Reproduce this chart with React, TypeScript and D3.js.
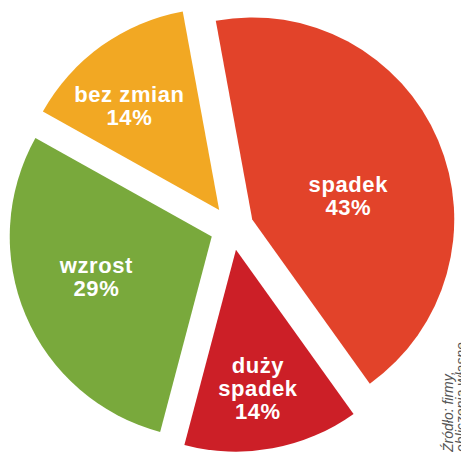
import React from "react";
import * as d3 from "d3";

const categories = ["spadek", "duży spadek", "wzrost", "bez zmian"];
const values = [43, 14, 29, 14];
const labelLines = [["spadek", "43%"], ["duży", "spadek", "14%"], ["wzrost", "29%"], ["bez zmian", "14%"]];
const colors = ["#e2432a", "#cc1f27", "#79a93c", "#f2a823"];
const sourceLines = ["Źródło: firmy,", "obliczenia własne"];

// layout (not data)
const W = 461, H = 452;
const CX = 232, CY = 228, R = 202, EXPLODE = 22;
const START_DEG = -10.4;
const labelPlace = [
  { dAngle: 9, dist: 99 },
  { dAngle: 1.4, dist: 140 },
  { dAngle: 4, dist: 122 },
  { dAngle: -5, dist: 138 },
];

export default function App() {
  const start = (START_DEG * Math.PI) / 180;
  const pie = d3.pie<number>().sort(null).value((d) => d).startAngle(start).endAngle(start + 2 * Math.PI);
  const arcs = pie(values);
  const arc = d3.arc<d3.PieArcDatum<number>>().innerRadius(0).outerRadius(R);
  const fs = 22, lh = 23;

  return (
    <svg width={W} height={H} style={{ position: "absolute", left: 0, top: 0, background: "#fff" }}>
      <g transform={`translate(${CX},${CY})`}>
        {arcs.map((a, i) => {
          const mid = (a.startAngle + a.endAngle) / 2;
          const ox = Math.sin(mid) * EXPLODE;
          const oy = -Math.cos(mid) * EXPLODE;
          const la = mid + (labelPlace[i].dAngle * Math.PI) / 180;
          const lx = ox + Math.sin(la) * labelPlace[i].dist;
          const ly = oy - Math.cos(la) * labelPlace[i].dist;
          const lines = labelLines[i];
          const y0 = ly - ((lines.length - 1) * lh) / 2 + fs * 0.35;
          return (
            <g key={categories[i]}>
              <path d={arc(a) || ""} transform={`translate(${ox},${oy})`} fill={colors[i]} />
              <text
                x={lx}
                textAnchor="middle"
                fill="#fff"
                fontFamily="'Liberation Sans', Arial, sans-serif"
                fontWeight="bold"
                fontSize={fs}
                style={{ letterSpacing: "0.6px" }}
              >
                {lines.map((t, j) => (
                  <tspan key={j} x={lx} y={y0 + j * lh}>
                    {t}
                  </tspan>
                ))}
              </text>
            </g>
          );
        })}
      </g>
      {sourceLines.map((t, j) => (
        <text
          key={j}
          transform={`translate(${453 + j * 13},${452}) rotate(-90)`}
          fontFamily="'Liberation Sans', Arial, sans-serif"
          fontStyle="italic"
          fontSize={14}
          fill="#555"
        >
          {t}
        </text>
      ))}
    </svg>
  );
}
